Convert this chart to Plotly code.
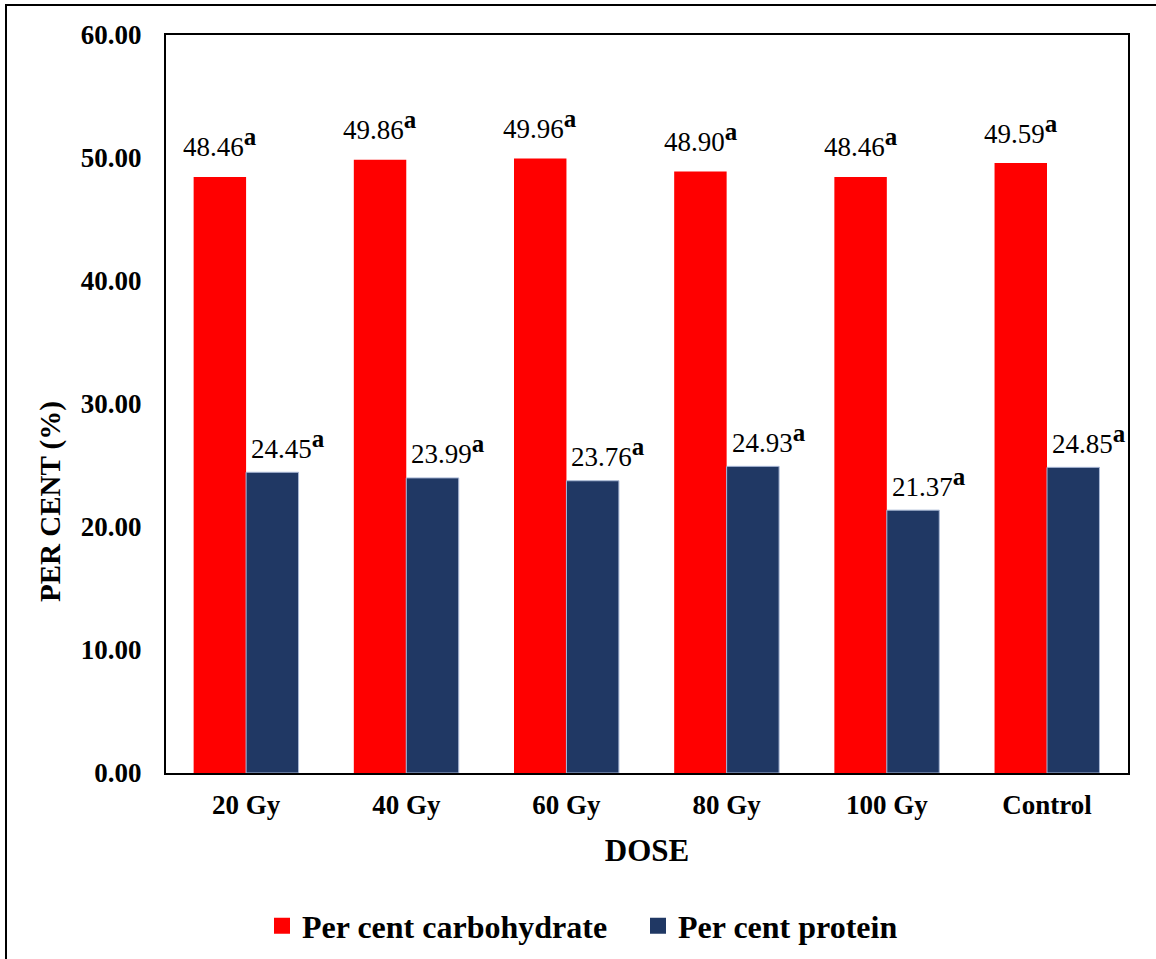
import plotly.graph_objects as go

categories = ["20 Gy", "40 Gy", "60 Gy", "80 Gy", "100 Gy", "Control"]
carbohydrate = [48.46, 49.86, 49.96, 48.90, 48.46, 49.59]
protein = [24.45, 23.99, 23.76, 24.93, 21.37, 24.85]
letters_carb = ["a"] * 6
letters_prot = ["a"] * 6
y_ticks = [0, 10, 20, 30, 40, 50, 60]

FONT = "Liberation Serif, Times New Roman, Tinos, serif"
RED = "#FF0000"
BLUE = "#203864"

fig = go.Figure()
fig.add_trace(go.Bar(x=categories, y=carbohydrate, name="Per cent carbohydrate",
                     marker=dict(color=RED, line=dict(width=0)), showlegend=False))
fig.add_trace(go.Bar(x=categories, y=protein, name="Per cent protein",
                     marker=dict(color=BLUE, line=dict(color="#A9B8D6", width=1)), showlegend=False))
# legend entries with larger square symbols
fig.add_trace(go.Scatter(x=[categories[0]], y=[None], mode="markers", name="Per cent carbohydrate",
                         marker=dict(symbol="square", size=16, color=RED), hoverinfo="skip"))
fig.add_trace(go.Scatter(x=[categories[0]], y=[None], mode="markers", name="Per cent protein",
                         marker=dict(symbol="square", size=16, color=BLUE), hoverinfo="skip"))


def label(v, l):
    return f"{v:.2f}<sup><b><span style='font-size:25px'>{l}</span></b></sup>"


annotations = []
for c, v, l in zip(categories, carbohydrate, letters_carb):
    annotations.append(dict(x=c, y=v, xref="x", yref="y", xshift=-26, yshift=34,
                            text=label(v, l), showarrow=False,
                            font=dict(family=FONT, size=27, color="black", weight="normal")))
for c, v, l in zip(categories, protein, letters_prot):
    annotations.append(dict(x=c, y=v, xref="x", yref="y", xshift=42, yshift=28,
                            text=label(v, l), showarrow=False,
                            font=dict(family=FONT, size=27, color="black", weight="normal")))
annotations.append(dict(x=(51 - 166) / 962, y=(773 - 502) / 738, xref="paper", yref="paper",
                        text="<b>PER CENT (%)</b>", textangle=-90, showarrow=False,
                        xanchor="center", yanchor="middle",
                        font=dict(family=FONT, size=29, color="black")))

fig.update_layout(
    width=1156, height=959,
    margin=dict(l=166, r=28, t=35, b=186, autoexpand=False),
    paper_bgcolor="white", plot_bgcolor="white",
    barmode="group", bargap=0.345, bargroupgap=0,
    font=dict(family=FONT, color="black"),
    annotations=annotations,
    showlegend=True,
    legend=dict(orientation="h", x=(262 - 166) / 962, xanchor="left",
                yref="container", y=(959 - 926) / 959, yanchor="middle",
                font=dict(family=FONT, size=32, color="black", weight="bold"),
                itemwidth=30, entrywidth=331, traceorder="normal"),
    shapes=[dict(type="rect", xref="paper", yref="paper",
                 x0=(6 - 166) / 962, x1=1.2, y0=-0.5, y1=(773 - 5) / 738,
                 line=dict(color="black", width=2), fillcolor="rgba(0,0,0,0)", layer="below")],
)
fig.update_xaxes(
    showline=True, linecolor="black", linewidth=2, mirror=True,
    showgrid=False, ticks="",
    tickfont=dict(family=FONT, size=27, color="black", weight="bold"),
    ticklabelstandoff=7,
    title=dict(text="DOSE", font=dict(family=FONT, size=31, color="black", weight="bold"), standoff=20),
)
fig.update_yaxes(
    range=[0, 60], tickvals=y_ticks, ticktext=[f"{t:.2f}" for t in y_ticks],
    showline=True, linecolor="black", linewidth=2, mirror=True,
    showgrid=False, zeroline=False, ticks="",
    tickfont=dict(family=FONT, size=27, color="black", weight="bold"),
    ticklabelstandoff=17,
)

fig.write_html("out.html", config={"displayModeBar": False},
               post_script="document.body.style.margin='0';")
